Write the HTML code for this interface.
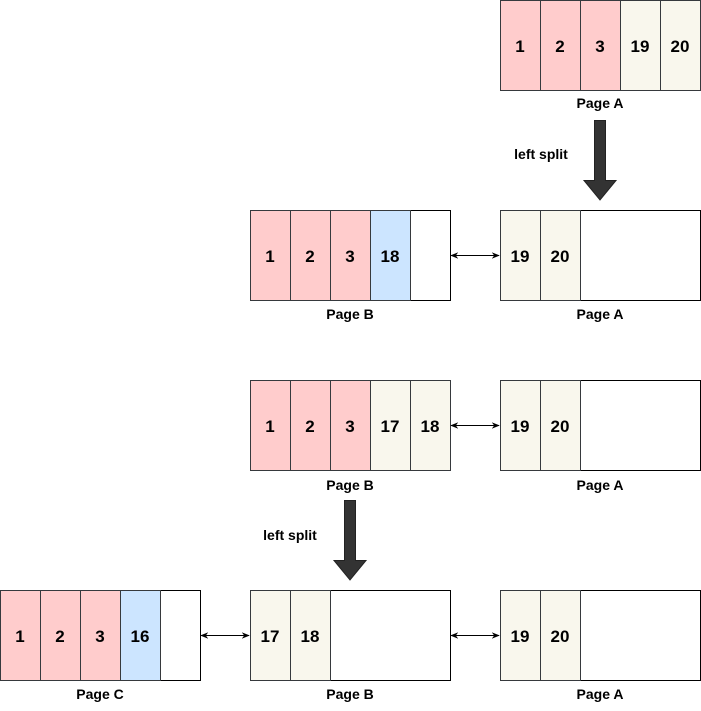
<!DOCTYPE html>
<html><head><style>body{margin:0;background:#fff}svg{display:block}</style></head><body>
<svg width="701" height="711" xmlns="http://www.w3.org/2000/svg" font-family="Liberation Sans, Arial, sans-serif" font-weight="bold">
<defs>
<marker id="a" viewBox="0 0 10 10" refX="9" refY="5" markerWidth="8" markerHeight="8" orient="auto-start-reverse"><path d="M0,1 L10,5 L0,9 L3,5 z" fill="#000"/></marker>
</defs>
<g stroke="#36393d" stroke-width="1">
<rect x="500.5" y="0.5" width="40" height="90" fill="#ffcccc"/><rect x="540.5" y="0.5" width="40" height="90" fill="#ffcccc"/><rect x="580.5" y="0.5" width="40" height="90" fill="#ffcccc"/><rect x="620.5" y="0.5" width="40" height="90" fill="#f9f7ed"/><rect x="660.5" y="0.5" width="40" height="90" fill="#f9f7ed"/>
<rect x="250.5" y="210.5" width="200" height="90" fill="#fff" stroke="#000"/>
<rect x="250.5" y="210.5" width="40" height="90" fill="#ffcccc"/><rect x="290.5" y="210.5" width="40" height="90" fill="#ffcccc"/><rect x="330.5" y="210.5" width="40" height="90" fill="#ffcccc"/><rect x="370.5" y="210.5" width="40" height="90" fill="#cce5ff"/>
<rect x="500.5" y="210.5" width="200" height="90" fill="#fff" stroke="#000"/>
<rect x="500.5" y="210.5" width="40" height="90" fill="#f9f7ed"/><rect x="540.5" y="210.5" width="40" height="90" fill="#f9f7ed"/>
<rect x="250.5" y="380.5" width="40" height="90" fill="#ffcccc"/><rect x="290.5" y="380.5" width="40" height="90" fill="#ffcccc"/><rect x="330.5" y="380.5" width="40" height="90" fill="#ffcccc"/><rect x="370.5" y="380.5" width="40" height="90" fill="#f9f7ed"/><rect x="410.5" y="380.5" width="40" height="90" fill="#f9f7ed"/>
<rect x="500.5" y="380.5" width="200" height="90" fill="#fff" stroke="#000"/>
<rect x="500.5" y="380.5" width="40" height="90" fill="#f9f7ed"/><rect x="540.5" y="380.5" width="40" height="90" fill="#f9f7ed"/>
<rect x="0.5" y="590.5" width="200" height="90" fill="#fff" stroke="#000"/>
<rect x="0.5" y="590.5" width="40" height="90" fill="#ffcccc"/><rect x="40.5" y="590.5" width="40" height="90" fill="#ffcccc"/><rect x="80.5" y="590.5" width="40" height="90" fill="#ffcccc"/><rect x="120.5" y="590.5" width="40" height="90" fill="#cce5ff"/>
<rect x="250.5" y="590.5" width="200" height="90" fill="#fff" stroke="#000"/>
<rect x="250.5" y="590.5" width="40" height="90" fill="#f9f7ed"/><rect x="290.5" y="590.5" width="40" height="90" fill="#f9f7ed"/>
<rect x="500.5" y="590.5" width="200" height="90" fill="#fff" stroke="#000"/>
<rect x="500.5" y="590.5" width="40" height="90" fill="#f9f7ed"/><rect x="540.5" y="590.5" width="40" height="90" fill="#f9f7ed"/>
</g>
<g stroke="#000" stroke-width="1">
<line x1="451" y1="255.5" x2="499" y2="255.5" marker-start="url(#a)" marker-end="url(#a)"/>
<line x1="451" y1="425.5" x2="499" y2="425.5" marker-start="url(#a)" marker-end="url(#a)"/>
<line x1="201" y1="635.5" x2="249" y2="635.5" marker-start="url(#a)" marker-end="url(#a)"/>
<line x1="451" y1="635.5" x2="499" y2="635.5" marker-start="url(#a)" marker-end="url(#a)"/>
</g>
<path d="M594.5,120.5 H605.5 V180.5 H616 L600,200 L584,180.5 H594.5 Z" fill="#333" stroke="#222"/>
<path d="M344.5,500.5 H355.5 V560.5 H366 L350,580 L334,560.5 H344.5 Z" fill="#333" stroke="#222"/>
<g font-size="17" text-anchor="middle" fill="#000">
<text x="520" y="52">1</text><text x="560" y="52">2</text><text x="600" y="52">3</text><text x="640" y="52">19</text><text x="680" y="52">20</text>
<text x="270" y="262">1</text><text x="310" y="262">2</text><text x="350" y="262">3</text><text x="390" y="262">18</text>
<text x="520" y="262">19</text><text x="560" y="262">20</text>
<text x="270" y="432">1</text><text x="310" y="432">2</text><text x="350" y="432">3</text><text x="390" y="432">17</text><text x="430" y="432">18</text>
<text x="520" y="432">19</text><text x="560" y="432">20</text>
<text x="20" y="642">1</text><text x="60" y="642">2</text><text x="100" y="642">3</text><text x="140" y="642">16</text>
<text x="270" y="642">17</text><text x="310" y="642">18</text>
<text x="520" y="642">19</text><text x="560" y="642">20</text>
</g>
<g font-size="14" text-anchor="middle" fill="#000">
<text x="600" y="108">Page A</text>
<text x="350" y="319">Page B</text><text x="600" y="319">Page A</text>
<text x="350" y="490">Page B</text><text x="600" y="490">Page A</text>
<text x="100" y="699">Page C</text><text x="350" y="699">Page B</text><text x="600" y="699">Page A</text>
<text x="541" y="159">left split</text>
<text x="290" y="540">left split</text>
</g>
</svg>
</body></html>
